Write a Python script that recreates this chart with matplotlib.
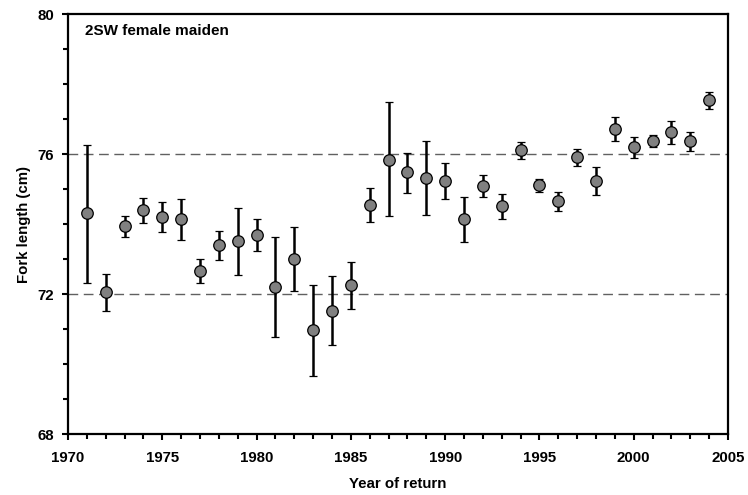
import matplotlib
matplotlib.use("Agg")
import matplotlib.pyplot as plt
from matplotlib.ticker import MultipleLocator

plt.rcParams['font.family'] = ['Liberation Sans', 'DejaVu Sans']
plt.rcParams['font.weight'] = 'bold'

years = [1971, 1972, 1973, 1974, 1975, 1976, 1977, 1978, 1979, 1980,
         1981, 1982, 1983, 1984, 1985, 1986, 1987, 1988, 1989, 1990,
         1991, 1992, 1993, 1994, 1995, 1996, 1997, 1998, 1999, 2000,
         2001, 2002, 2003, 2004]
mean_length = [74.31, 72.06, 73.94, 74.40, 74.21, 74.14, 72.67, 73.40, 73.51, 73.69,
               72.22, 73.02, 70.98, 71.53, 72.26, 74.56, 75.84, 75.49, 75.33, 75.24,
               74.14, 75.10, 74.51, 76.11, 75.11, 74.67, 75.92, 75.24, 76.73, 76.20,
               76.38, 76.65, 76.37, 77.55]
upper_ci = [76.27, 72.58, 74.25, 74.75, 74.64, 74.73, 73.02, 73.82, 74.47, 74.14,
            73.64, 73.91, 72.27, 72.52, 72.91, 75.03, 77.49, 76.05, 76.38, 75.74,
            74.77, 75.42, 74.86, 76.35, 75.29, 74.92, 76.16, 75.64, 77.07, 76.49,
            76.54, 76.96, 76.64, 77.79]
lower_ci = [72.33, 71.51, 73.64, 74.05, 73.77, 73.54, 72.33, 72.98, 72.54, 73.25,
            70.78, 72.09, 69.67, 70.55, 71.57, 74.07, 74.23, 74.90, 74.27, 74.72,
            73.50, 74.79, 74.14, 75.87, 74.93, 74.39, 75.67, 74.83, 76.39, 75.90,
            76.21, 76.29, 76.10, 77.30]
reference_lengths = [72, 76]
panel_title = "2SW female maiden"

fig = plt.figure(figsize=(7.48, 4.95), dpi=100)
ax = fig.add_axes([68 / 748, 1 - 434.3 / 495, 660 / 748, 420 / 495])

for ref in reference_lengths:
    ax.axhline(ref, color='#606060', lw=1.0, ls=(0, (7, 4)), zorder=1)

yerr = [[m - lo for m, lo in zip(mean_length, lower_ci)],
        [hi - m for m, hi in zip(mean_length, upper_ci)]]
ax.errorbar(years, mean_length, yerr=yerr, fmt='o', color='black',
            ecolor='black', elinewidth=1.8, capsize=3.2, capthick=1.8,
            markersize=8.3, markerfacecolor='#808080', markeredgecolor='black',
            markeredgewidth=0.9, zorder=3)

ax.set_xlim(1970, 2005)
ax.set_ylim(68, 80)
ax.xaxis.set_major_locator(MultipleLocator(5))
ax.xaxis.set_minor_locator(MultipleLocator(1))
ax.yaxis.set_major_locator(MultipleLocator(4))
ax.yaxis.set_minor_locator(MultipleLocator(1))
ax.tick_params(which='both', direction='out', width=1.5, labelsize=10.8,
               top=False, right=False)
ax.tick_params(which='major', length=4, pad=6)
ax.tick_params(which='minor', length=3.5)
ax.tick_params(axis='x', which='major', pad=8)
for s in ax.spines.values():
    s.set_linewidth(1.6)

ax.set_xlabel("Year of return", fontsize=10.8, fontweight='bold', labelpad=9)
ax.set_ylabel("Fork length (cm)", fontsize=10.8, fontweight='bold', labelpad=4.5)
ax.text(0.026, 0.978, panel_title, transform=ax.transAxes, fontsize=11,
        fontweight='bold', va='top', ha='left')

fig.savefig("out.png", dpi=100)
